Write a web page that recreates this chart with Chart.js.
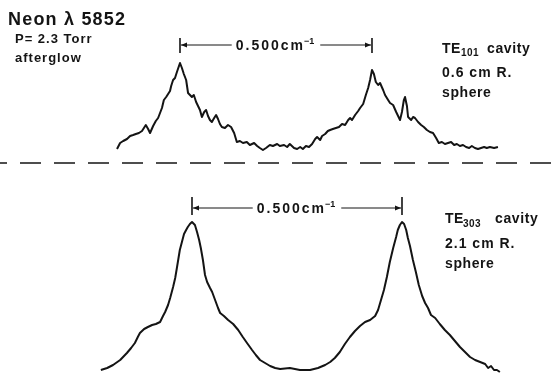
<!DOCTYPE html>
<html>
<head>
<meta charset="utf-8">
<script src="https://cdn.jsdelivr.net/npm/chart.js@4"></script>
<style>
  html, body { margin: 0; padding: 0; background: #ffffff; }
  #wrap { width: 555px; height: 377px; }
</style>
</head>
<body>
<div id="wrap"><canvas id="c" width="555" height="377"></canvas></div>
<script>
// ---- Data (wavenumber shift in cm^-1 relative to first peak, intensity in arbitrary units) ----
const topShift = [
  -0.164,-0.156,-0.148,-0.138,-0.130,-0.122,-0.115,-0.107,-0.099,-0.094,
  -0.089,-0.083,-0.078,-0.070,-0.063,-0.057,-0.052,-0.047,-0.042,-0.036,
  -0.031,-0.026,-0.023,-0.018,-0.013,-0.008,0.000,0.005,0.010,0.016,
  0.021,0.026,0.031,0.036,0.042,0.047,0.052,0.057,0.063,0.068,
  0.073,0.078,0.083,0.089,0.094,0.099,0.104,0.109,0.117,0.125,
  0.133,0.141,0.148,0.156,0.164,0.174,0.182,0.193,0.201,0.208,
  0.216,0.224,0.234,0.242,0.253,0.260,0.271,0.279,0.286,0.297,
  0.305,0.313,0.320,0.328,0.336,0.344,0.352,0.357,0.365,0.370,
  0.378,0.385,0.391,0.398,0.406,0.414,0.422,0.430,0.438,0.443,
  0.448,0.456,0.464,0.469,0.477,0.484,0.490,0.495,0.500,0.505,
  0.510,0.516,0.521,0.529,0.534,0.542,0.547,0.555,0.563,0.568,
  0.573,0.578,0.583,0.586,0.591,0.594,0.602,0.607,0.612,0.620,
  0.628,0.635,0.643,0.651,0.659,0.667,0.674,0.682,0.690,0.698,
  0.706,0.714,0.721,0.729,0.737,0.745,0.753,0.760,0.768,0.776,
  0.784,0.792,0.799,0.807,0.818,0.828
];
const topIntensity = [
  14,20,22,24,27,28,29,30,32,35,
  38,34,30,37,42,45,50,55,63,66,
  69,72,77,83,85,91,100,95,89,83,
  70,68,66,68,61,57,53,46,51,53,
  47,43,41,45,48,44,39,36,35,38,
  36,30,21,22,20,21,18,20,17,15,
  13,15,18,17,19,17,18,16,19,15,
  14,16,14,17,16,19,24,26,23,27,
  29,32,33,34,35,36,39,38,43,45,
  43,48,52,55,59,68,75,83,93,89,
  81,78,80,73,68,63,60,58,51,47,
  43,51,63,66,57,46,43,46,45,41,
  38,36,33,31,30,25,20,21,19,20,
  21,18,19,17,18,16,15,17,15,14,
  15,16,15,16,15,16
];
const bottomShift = [
  -0.217,-0.202,-0.188,-0.171,-0.155,-0.145,-0.136,-0.129,-0.124,-0.114,
  -0.105,-0.095,-0.086,-0.076,-0.069,-0.064,-0.057,-0.052,-0.045,-0.040,
  -0.036,-0.029,-0.024,-0.019,-0.014,-0.010,-0.005,0.000,0.007,0.012,
  0.017,0.021,0.026,0.031,0.036,0.043,0.048,0.055,0.062,0.067,
  0.076,0.086,0.098,0.110,0.121,0.131,0.143,0.152,0.162,0.174,
  0.186,0.198,0.210,0.233,0.257,0.281,0.300,0.317,0.329,0.340,
  0.352,0.364,0.376,0.388,0.400,0.412,0.424,0.436,0.443,0.450,
  0.457,0.464,0.471,0.479,0.486,0.490,0.495,0.500,0.505,0.510,
  0.514,0.519,0.526,0.533,0.540,0.548,0.555,0.562,0.569,0.579,
  0.590,0.602,0.614,0.626,0.638,0.650,0.662,0.674,0.686,0.698,
  0.705,0.712,0.719,0.726,0.733
];
const bottomIntensity = [
  2,4,7,12,19,24,29,35,39,43,
  45,47,48,50,56,60,67,74,85,94,
  104,122,130,138,142,145,148,150,147,140,
  132,124,112,97,90,84,80,72,64,59,
  56,52,48,42,35,29,22,17,12,9,
  6,4,3,4,2,2,4,7,10,14,
  20,28,35,41,46,50,52,56,62,72,
  82,95,110,124,135,142,147,150,148,142,
  134,126,112,100,87,76,69,64,57,54,
  48,42,37,31,25,20,15,12,10,8,
  4,6,2,2,0
];
const peakSpacing = [0.000, 0.500];        // marked interval, cm^-1
const spacingLabel = '0.500';
const headerLines = ['Neon \u03bb 5852', 'P= 2.3 Torr', 'afterglow'];
const topCavity = ['TE', '101', 'cavity', '0.6 cm R.', 'sphere'];
const bottomCavity = ['TE', '303', 'cavity', '2.1 cm R.', 'sphere'];

// ---- helpers ----
const zip = (xs, ys) => xs.map((x, i) => ({ x: x, y: ys[i] }));
const FONT = '"Liberation Sans", Arial, Helvetica, sans-serif';
const INK = '#141414';

function drawText(ctx, s, x, y, size, spacing) {
  ctx.font = 'bold ' + size + 'px ' + FONT;
  ctx.letterSpacing = (spacing || 0) + 'px';
  ctx.fillText(s, x, y);
  const w = ctx.measureText(s).width;
  ctx.letterSpacing = '0px';
  return w;
}

function drawBracket(ctx, xs, ys, span, level, tickUp, tickDown) {
  const x1 = xs.getPixelForValue(span[0]);
  const x2 = xs.getPixelForValue(span[1]);
  const y = ys.getPixelForValue(level);
  ctx.save();
  ctx.strokeStyle = INK; ctx.fillStyle = INK;
  ctx.lineWidth = 1.6;
  ctx.beginPath();
  ctx.moveTo(x1, y - tickUp); ctx.lineTo(x1, y + tickDown);
  ctx.moveTo(x2, y - tickUp); ctx.lineTo(x2, y + tickDown);
  ctx.stroke();
  // label
  ctx.textBaseline = 'alphabetic';
  ctx.font = 'bold 14px ' + FONT;
  ctx.letterSpacing = '2px';
  const wMain = ctx.measureText(spacingLabel + 'cm').width;
  ctx.font = 'bold 9px ' + FONT;
  ctx.letterSpacing = '0px';
  const wSup = ctx.measureText('\u22121').width;
  const total = wMain + wSup + 1;
  const mid = (x1 + x2) / 2;
  const tx = mid - total / 2;
  const base = y + 5;
  const w1 = drawText(ctx, spacingLabel + 'cm', tx, base, 14, 2);
  drawText(ctx, '\u22121', tx + w1 - 1, base - 6, 9, 0);
  // horizontal line with arrowheads
  ctx.lineWidth = 1;
  ctx.beginPath();
  ctx.moveTo(x1 + 1, y); ctx.lineTo(tx - 4, y);
  ctx.moveTo(tx + total + 4, y); ctx.lineTo(x2 - 1, y);
  ctx.stroke();
  ctx.beginPath();
  ctx.moveTo(x1 + 1, y); ctx.lineTo(x1 + 7, y - 2.5); ctx.lineTo(x1 + 7, y + 2.5); ctx.closePath();
  ctx.moveTo(x2 - 1, y); ctx.lineTo(x2 - 7, y - 2.5); ctx.lineTo(x2 - 7, y + 2.5); ctx.closePath();
  ctx.fill();
  ctx.restore();
}

function drawCavity(ctx, lines, x, y0, gap2, gap3, subX, subDy, cavX) {
  const wTE = drawText(ctx, lines[0], x, y0, 14, 0.5);
  drawText(ctx, lines[1], subX, y0 + subDy, 10, 0.5);
  drawText(ctx, lines[2], cavX, y0, 14, 0.6);
  drawText(ctx, lines[3], x, y0 + gap2, 14, 1);
  drawText(ctx, lines[4], x, y0 + gap3, 14, 0.6);
}

const annotations = {
  id: 'annotations',
  afterDatasetsDraw(chart) {
    const ctx = chart.ctx;
    const s = chart.scales;
    ctx.save();
    ctx.fillStyle = INK;
    ctx.textBaseline = 'alphabetic';
    // header
    drawText(ctx, headerLines[0], 8, 25, 18, 1.2);
    drawText(ctx, headerLines[1], 15, 43, 13, 1);
    drawText(ctx, headerLines[2], 15, 62, 13, 1);
    // brackets
    drawBracket(ctx, s.xTop, s.yTop, peakSpacing, 118, 7, 8);
    drawBracket(ctx, s.xBot, s.yBot, peakSpacing, 164, 11, 7);
    // cavity labels
    drawCavity(ctx, topCavity, 442, 53, 24, 44, 461, 3, 487);
    drawCavity(ctx, bottomCavity, 445, 223, 25, 45, 463, 4, 495);
    ctx.restore();
  }
};

const xTopMin = -0.46875, xTopMax = 0.9766;
const xBotMin = -0.45714, xBotMax = 0.86429;

new Chart(document.getElementById('c'), {
  type: 'line',
  data: {
    datasets: [
      {
        label: 'TE101 cavity, 0.6 cm R. sphere',
        data: zip(topShift, topIntensity),
        xAxisID: 'xTop', yAxisID: 'yTop',
        borderColor: INK, borderWidth: 2, pointRadius: 0, tension: 0,
        borderJoinStyle: 'round'
      },
      {
        label: 'zero level',
        data: [{ x: xTopMin, y: 0 }, { x: xTopMax, y: 0 }],
        xAxisID: 'xTop', yAxisID: 'yTop',
        borderColor: INK, borderWidth: 1.6, pointRadius: 0,
        borderDash: [21, 13], borderDashOffset: 14
      },
      {
        label: 'TE303 cavity, 2.1 cm R. sphere',
        data: zip(bottomShift, bottomIntensity),
        xAxisID: 'xBot', yAxisID: 'yBot',
        borderColor: INK, borderWidth: 2, pointRadius: 0, tension: 0,
        borderJoinStyle: 'round'
      }
    ]
  },
  options: {
    responsive: false,
    animation: false,
    devicePixelRatio: 1,
    layout: { padding: 0 },
    plugins: { legend: { display: false }, tooltip: { enabled: false }, title: { display: false } },
    scales: {
      xTop: { type: 'linear', display: false, min: xTopMin, max: xTopMax },
      yTop: { type: 'linear', display: false, min: -214, max: 163 },
      xBot: { type: 'linear', display: false, min: xBotMin, max: xBotMax },
      yBot: { type: 'linear', display: false, min: -5, max: 372 }
    }
  },
  plugins: [annotations]
});
</script>
</body>
</html>
